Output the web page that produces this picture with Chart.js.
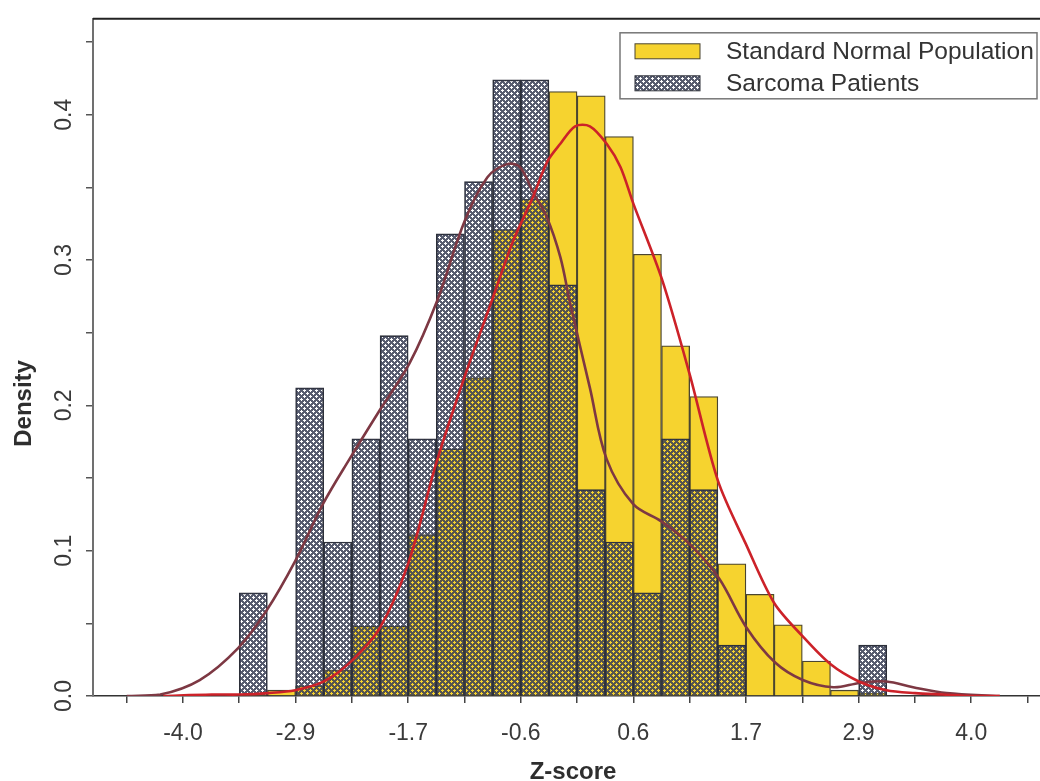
<!DOCTYPE html>
<html>
<head>
<meta charset="utf-8">
<title>Z-score density</title>
<script src="https://cdn.jsdelivr.net/npm/chart.js@4.4.1/dist/chart.umd.min.js"></script>
<style>
  html, body { margin: 0; padding: 0; background: #fff; overflow: hidden; }
  #wrap { position: relative; width: 1060px; height: 781px; }
</style>
</head>
<body>
<div id="wrap"><canvas id="zChart"></canvas></div>
<script>
// histogram bins, width 2/7, given by their centres
const binCenters = [-3.571, -3.286, -3.0, -2.714, -2.429, -2.143, -1.857, -1.571, -1.286, -1.0,
    -0.714, -0.429, -0.143, 0.143, 0.429, 0.714, 1.0, 1.286, 1.571, 1.857,
    2.143, 2.429, 2.714, 3.0, 3.286];

const normalDensity = [0.0, 0.001, 0.004, 0.007, 0.018, 0.048, 0.048, 0.111, 0.170, 0.219,
    0.321, 0.342, 0.416, 0.413, 0.385, 0.304, 0.241, 0.206, 0.091, 0.070,
    0.049, 0.024, 0.004, 0.002, 0.0];

const sarcomaDensity = [0.0, 0.071, 0.0, 0.212, 0.106, 0.177, 0.248, 0.177, 0.318, 0.354,
    0.424, 0.424, 0.283, 0.142, 0.106, 0.071, 0.177, 0.142, 0.035, 0.0,
    0.0, 0.0, 0.0, 0.035, 0.0];

// smoothed density curves
const normalCurveZ = [-4.20, -3.71, -3.43, -3.14, -2.86, -2.57, -2.29, -2.00, -1.71, -1.43,
    -1.14, -0.86, -0.65, -0.45, -0.30, -0.17, -0.02, 0.13, 0.30, 0.44,
    0.57, 0.86, 1.14, 1.43, 1.71, 2.00, 2.29, 2.57, 2.86, 3.14,
    3.43, 3.71, 4.00, 4.29];
const normalCurveDensity = [0.000, 0.001, 0.001, 0.002, 0.004, 0.010, 0.024, 0.047, 0.092, 0.160,
    0.220, 0.273, 0.313, 0.343, 0.368, 0.380, 0.392, 0.392, 0.380, 0.364,
    0.339, 0.287, 0.222, 0.148, 0.105, 0.064, 0.041, 0.022, 0.010, 0.004,
    0.002, 0.001, 0.000, 0.000];

const sarcomaCurveZ = [-4.57, -4.23, -3.83, -3.44, -3.15, -2.86, -2.58, -2.31, -2.00, -1.70,
    -1.42, -1.14, -0.91, -0.71, -0.58, -0.45, -0.31, -0.17, -0.07, 0.13,
    0.30, 0.57, 0.86, 1.15, 1.44, 1.72, 2.01, 2.29, 2.60, 2.87,
    3.14, 3.41, 3.75, 4.29];
const sarcomaCurveDensity = [0.000, 0.001, 0.011, 0.033, 0.059, 0.093, 0.132, 0.163, 0.197, 0.229,
    0.272, 0.327, 0.357, 0.366, 0.364, 0.347, 0.330, 0.302, 0.270, 0.212,
    0.163, 0.132, 0.120, 0.104, 0.081, 0.047, 0.023, 0.011, 0.006, 0.009,
    0.010, 0.006, 0.002, 0.000];

const xMajorTicks = [-4, -2.857, -1.714, -0.571, 0.571, 1.714, 2.857, 4];
const xMajorLabels = ['-4.0', '-2.9', '-1.7', '-0.6', '0.6', '1.7', '2.9', '4.0'];
const xMinorTicks = [-4.571, -3.429, -2.286, -1.143, 0, 1.143, 2.286, 3.429, 4.571];

const yTicks = [0, 0.05, 0.1, 0.15, 0.2, 0.25, 0.3, 0.35, 0.4, 0.45];
const yLabels = ['0.0', '', '0.1', '', '0.2', '', '0.3', '', '0.4', ''];

const FONT = '"Liberation Sans", Arial, Helvetica, sans-serif';
const YELLOW = '#f6d32f';

const zip = (xs, ys) => xs.map((x, i) => ({x: x, y: ys[i]}));

// cross-hatch fill for the sarcoma bars; gaps stay transparent
const makeHatch = (ctx) => {
    const n = 6;
    const tile = document.createElement('canvas');
    tile.width = n;
    tile.height = n;
    const tctx = tile.getContext('2d');
    const img = tctx.createImageData(n, n);
    for (let y = 0; y < n; y++) {
        for (let x = 0; x < n; x++) {
            const a = (x + y) % n;
            const b = (x - y + n) % n;
            if (a < 3 || b < 3) {
                const k = (y * n + x) * 4;
                img.data[k] = 56;
                img.data[k + 1] = 62;
                img.data[k + 2] = 84;
                img.data[k + 3] = 215;
            }
        }
    }
    tctx.putImageData(img, 0, 0);
    return ctx.createPattern(tile, 'repeat');
};

const canvas = document.querySelector('#zChart');
const hatch = makeHatch(canvas.getContext('2d'));

// top frame line, rotated y title and the boxed legend
const decorations = {
    id: 'decorations',
    afterDatasetsDraw(chart) {
        const {ctx, chartArea} = chart;
        ctx.save();

        ctx.strokeStyle = '#222';
        ctx.lineWidth = 2;
        ctx.beginPath();
        ctx.moveTo(chartArea.left, chartArea.top);
        ctx.lineTo(chartArea.right, chartArea.top);
        ctx.stroke();

        ctx.save();
        ctx.translate(24.5, (chartArea.top + chartArea.bottom) / 2 + 46);
        ctx.rotate(-Math.PI / 2);
        ctx.font = 'bold 24px ' + FONT;
        ctx.fillStyle = '#2e2e2e';
        ctx.textAlign = 'center';
        ctx.textBaseline = 'middle';
        ctx.fillText('Density', 0, 0);
        ctx.restore();

        const bars = chart.data.datasets.filter(d => d.type === 'bar').reverse();
        const boxW = 417, boxH = 66;
        const left = chartArea.right - 16 - boxW;
        const top = chartArea.top + 14;
        ctx.fillStyle = '#fff';
        ctx.fillRect(left, top, boxW, boxH);
        ctx.strokeStyle = '#777';
        ctx.lineWidth = 1.5;
        ctx.strokeRect(left, top, boxW, boxH);

        ctx.font = '24.5px ' + FONT;
        ctx.textBaseline = 'middle';
        ctx.textAlign = 'left';
        bars.forEach((d, i) => {
            const cy = top + 18 + i * 32;
            ctx.fillStyle = d.backgroundColor;
            ctx.fillRect(left + 15, cy - 7, 65, 15);
            ctx.strokeStyle = d.borderColor;
            ctx.lineWidth = 1;
            ctx.strokeRect(left + 15, cy - 7, 65, 15);
            ctx.fillStyle = '#333';
            ctx.fillText(d.label, left + 106, cy + 1);
        });
        ctx.restore();
    }
};

const config = {
    type: 'bar',
    data: {
        datasets: [{
            type: 'line',
            label: 'Standard Normal density',
            data: zip(normalCurveZ, normalCurveDensity),
            borderColor: '#cc2229',
            borderWidth: 2.6,
            pointRadius: 0,
            tension: 0.3,
            order: 0,
        }, {
            type: 'line',
            label: 'Sarcoma density',
            data: zip(sarcomaCurveZ, sarcomaCurveDensity),
            borderColor: '#7d3843',
            borderWidth: 2.6,
            pointRadius: 0,
            tension: 0.35,
            order: 1,
        }, {
            type: 'bar',
            label: 'Sarcoma Patients',
            data: zip(binCenters, sarcomaDensity),
            backgroundColor: hatch,
            borderColor: '#2c2f38',
            borderWidth: 1,
            grouped: false,
            barPercentage: 1,
            categoryPercentage: 1,
            order: 2,
        }, {
            type: 'bar',
            label: 'Standard Normal Population',
            data: zip(binCenters, normalDensity),
            backgroundColor: YELLOW,
            borderColor: '#4a4530',
            borderWidth: 1.3,
            grouped: false,
            barPercentage: 1,
            categoryPercentage: 1,
            order: 3,
        }],
    },
    options: {
        animation: false,
        responsive: true,
        maintainAspectRatio: false,
        layout: { padding: { left: 0, right: 7, top: 13, bottom: 0 } },
        scales: {
            x: {
                type: 'linear',
                min: -4.913,
                max: 4.83,
                offset: false,
                afterBuildTicks: (scale) => {
                    scale.ticks = [...xMinorTicks, ...xMajorTicks].sort((a, b) => a - b).map(v => ({value: v}));
                },
                afterFit: (scale) => { scale.height = 85; },
                border: { display: true, color: '#333', width: 1.5 },
                grid: { offset: false, drawOnChartArea: false, tickLength: 7, color: '#444', lineWidth: 1.5 },
                ticks: {
                    autoSkip: false,
                    maxRotation: 0,
                    padding: 17,
                    color: '#3a3a3a',
                    font: { family: FONT, size: 23 },
                    callback: (value) => {
                        const i = xMajorTicks.indexOf(value);
                        return i >= 0 ? xMajorLabels[i] : '';
                    },
                },
                title: {
                    display: true,
                    text: 'Z-score',
                    color: '#2e2e2e',
                    padding: 0,
                    font: { family: FONT, size: 24, weight: 'bold', lineHeight: 0.75 },
                },
            },
            y: {
                min: 0,
                max: 0.466,
                afterBuildTicks: (scale) => {
                    scale.ticks = yTicks.map(v => ({value: v}));
                },
                afterFit: (scale) => { scale.width = 93; },
                border: { display: true, color: '#707070', width: 2 },
                grid: { drawOnChartArea: false, tickLength: 7, color: '#555', lineWidth: 1.5 },
                ticks: {
                    autoSkip: false,
                    minRotation: 90,
                    maxRotation: 90,
                    crossAlign: 'center',
                    padding: 5,
                    color: '#3a3a3a',
                    font: { family: FONT, size: 23 },
                    callback: (value) => {
                        const i = yTicks.indexOf(value);
                        return i >= 0 ? yLabels[i] : '';
                    },
                },
            },
        },
        plugins: {
            legend: { display: false },
            tooltip: { enabled: false },
        },
    },
    plugins: [decorations],
};

const chart = new Chart(canvas, config);
</script>
</body>
</html>
